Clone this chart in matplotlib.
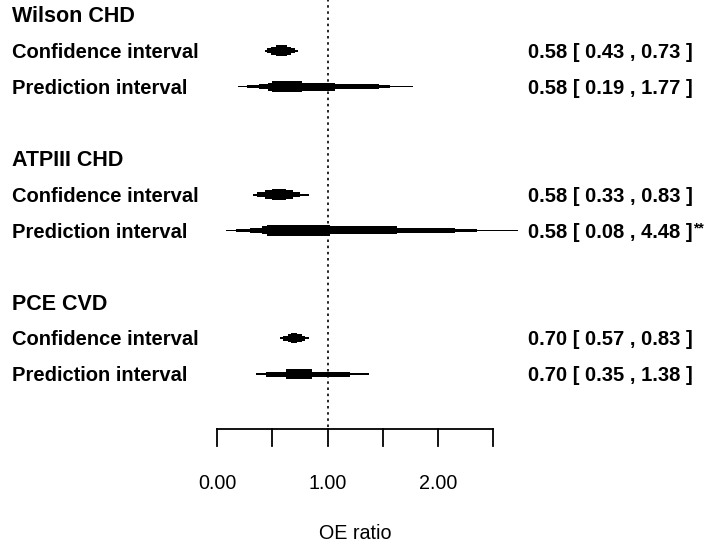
import matplotlib.pyplot as plt

plt.rcParams['font.family'] = ['Liberation Sans', 'DejaVu Sans']

# summary results per model
groups = ['Wilson CHD', 'ATPIII CHD', 'PCE CVD']
est = [0.58, 0.58, 0.70]
ci_lo = [0.43, 0.33, 0.57]
ci_hi = [0.73, 0.83, 0.83]
pi_lo = [0.19, 0.08, 0.35]
pi_hi = [1.77, 4.48, 1.38]
pi_flag = ['', '**', '']

# raindrop steps (left/right edges of each thickness level)
ci_left = [[0.43, 0.45, 0.49, 0.53], [0.33, 0.36, 0.43, 0.50], [0.57, 0.60, 0.64, 0.67]]
ci_right = [[0.73, 0.71, 0.67, 0.63], [0.83, 0.75, 0.69, 0.62], [0.83, 0.80, 0.77, 0.72]]
ci_level = [[0.18, 0.45, 0.73, 1.0], [0.18, 0.45, 0.73, 1.0], [0.18, 0.45, 0.73, 0.91]]
pi_left = [[0.19, 0.27, 0.38, 0.46, 0.50], [0.08, 0.17, 0.30, 0.41, 0.45], [0.35, 0.44, 0.62]]
pi_right = [[1.77, 1.57, 1.47, 1.07, 0.77], [4.48, 2.35, 2.15, 1.63, 1.02], [1.38, 1.20, 0.86]]
pi_level = [[0.09, 0.27, 0.45, 0.73, 1.0], [0.09, 0.27, 0.45, 0.73, 1.0], [0.14, 0.45, 0.82]]

ticks = [0, 0.5, 1.0, 1.5, 2.0, 2.5]
tick_labels = ['0.00', '', '1.00', '', '2.00', '']

x_clip = 2.72      # plot region ends here
max_h = 0.31       # full raindrop thickness in rows

fig = plt.figure(figsize=(7.16, 5.46), dpi=100)
ax = fig.add_axes([0, 0, 1, 1])
ax.set_xlim(-1.964, 4.516)
ax.set_ylim(14.79, -0.418)
ax.axis('off')


def raindrop(y, lefts, rights, levels):
    for lo, hi, lv in zip(lefts, rights, levels):
        hi = min(hi, x_clip)
        ax.barh(y, hi - lo, left=lo, height=max(lv * max_h, 0.03),
                color='black', linewidth=0)


lab_x = -1.855
res_x = 2.814
dy = 0.05   # small nudge so text sits on the row centre
for g in range(len(groups)):
    r = g * 4
    ax.text(lab_x, r + dy, groups[g], fontsize=15.5, fontweight='bold', va='center', ha='left')
    ax.text(lab_x, r + 1 + dy, 'Confidence interval', fontsize=14.5, fontweight='bold',
            va='center', ha='left')
    ax.text(lab_x, r + 2 + dy, 'Prediction interval', fontsize=14.5, fontweight='bold',
            va='center', ha='left')
    raindrop(r + 1, ci_left[g], ci_right[g], ci_level[g])
    raindrop(r + 2, pi_left[g], pi_right[g], pi_level[g])
    ax.text(res_x, r + 1 + dy, '%.2f [ %.2f , %.2f ]' % (est[g], ci_lo[g], ci_hi[g]),
            fontsize=14.5, fontweight='bold', va='center', ha='left')
    t = ax.text(res_x, r + 2 + dy, '%.2f [ %.2f , %.2f ]' % (est[g], pi_lo[g], pi_hi[g]),
                fontsize=14.5, fontweight='bold', va='center', ha='left')
    if pi_flag[g]:
        ax.annotate(pi_flag[g], xy=(1, 1), xycoords=t, xytext=(0.5, 1), textcoords='offset points',
                    fontsize=10, fontweight='bold', ha='left', va='top')

# reference line
axis_y = 11.53
ax.plot([1, 1], [-0.5, axis_y], color='black', linewidth=1.2, linestyle=(0, (1.5, 2.2)))

# x axis
ax.plot([ticks[0], ticks[-1]], [axis_y, axis_y], color='black', linewidth=1.3)
for t, lab in zip(ticks, tick_labels):
    ax.plot([t, t], [axis_y, axis_y + 0.47], color='black', linewidth=1.3)
    if lab:
        ax.text(t, 13.04, lab, fontsize=14.2, ha='center', va='center')
ax.text(1.25, 14.43, 'OE ratio', fontsize=14.2, ha='center', va='center')

plt.savefig('out.png', dpi=100)
